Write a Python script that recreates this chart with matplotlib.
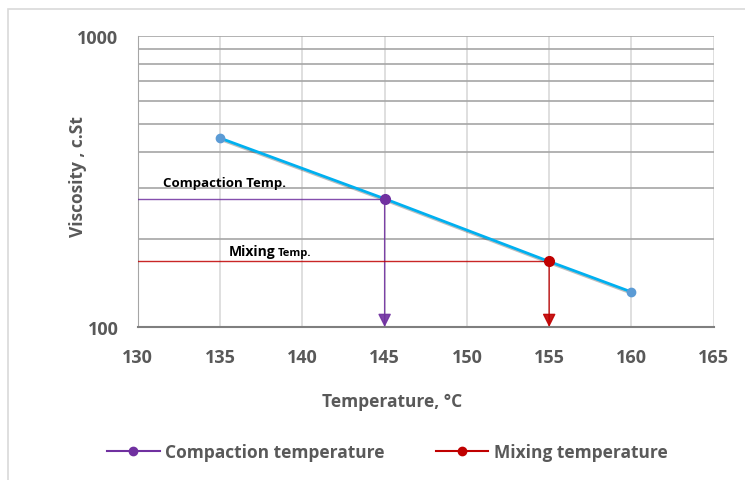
import matplotlib
matplotlib.use('Agg')
import matplotlib.pyplot as plt
import matplotlib.patheffects as pe
from matplotlib.lines import Line2D
from matplotlib.ticker import FixedLocator, NullFormatter

# viscosity vs temperature data
temps = [135, 145, 155, 160]
visc = [446, 276, 168, 132]

comp_temp = 145
comp_visc = 276
mix_temp = 155
mix_visc = 168

xticks = [130, 135, 140, 145, 150, 155, 160, 165]
yticks = [100, 1000]
minor_y = [200, 300, 400, 500, 600, 700, 800, 900]

blue = '#00B0F0'
pt_blue = '#5B9BD5'
purple = '#7030A0'
red = '#C00000'
txt = '#595959'

plt.rcParams['font.family'] = ['Open Sans', 'DejaVu Sans']

fig = plt.figure(figsize=(7.45, 4.81), dpi=100)
# chart area frame
fig.patches.append(plt.Rectangle((0.011, -0.01), 1.0, 0.99, transform=fig.transFigure,
                                 fill=False, edgecolor='#d9d9d9', lw=1.2))
ax = fig.add_axes([0.185, 0.318, 0.773, 0.605])
ax.set_yscale('log')
ax.set_xlim(130, 165)
ax.set_ylim(100, 1000)

ax.xaxis.set_major_locator(FixedLocator(xticks))
ax.yaxis.set_major_locator(FixedLocator(yticks))
ax.yaxis.set_minor_locator(FixedLocator(minor_y))
ax.yaxis.set_minor_formatter(NullFormatter())
ax.set_yticklabels([str(v) for v in yticks])
ax.tick_params(axis='both', which='both', length=0, labelsize=13, labelcolor=txt)
ax.tick_params(axis='x', pad=15)
ax.tick_params(axis='y', pad=14)
for lab in ax.get_xticklabels() + ax.get_yticklabels():
    lab.set_fontweight('bold')

ax.grid(axis='x', color='#d9d9d9', lw=1.2)
ax.grid(axis='y', which='both', color='#a6a6a6', lw=1.2)
for s in ['top', 'right']:
    ax.spines[s].set_visible(False)
ax.spines['left'].set_color('#a6a6a6')
ax.spines['bottom'].set_color('#7f7f7f')
ax.spines['bottom'].set_linewidth(1.5)

# guide lines
ax.plot([130, comp_temp], [comp_visc, comp_visc], color=purple, lw=1, alpha=0.85, zorder=3)
ax.annotate('', xy=(comp_temp, 100), xytext=(comp_temp, comp_visc),
            arrowprops=dict(arrowstyle='-|>,head_length=0.8,head_width=0.4', color=purple,
                            lw=1, shrinkA=0, shrinkB=0, alpha=0.9), zorder=3)
ax.plot([130, mix_temp], [mix_visc, mix_visc], color=red, lw=1, alpha=0.85, zorder=3)
ax.annotate('', xy=(mix_temp, 100), xytext=(mix_temp, mix_visc),
            arrowprops=dict(arrowstyle='-|>,head_length=0.8,head_width=0.4', color=red,
                            lw=1, shrinkA=0, shrinkB=0, alpha=0.9), zorder=3)

# main line
ax.plot(temps, visc, color=blue, lw=2, zorder=4,
        path_effects=[pe.SimpleLineShadow(offset=(1.5, -1.5), alpha=0.25), pe.Normal()])
ax.plot(temps, visc, 'o', color=pt_blue, ms=6, zorder=5)
ax.plot([comp_temp], [comp_visc], 'o', color=purple, ms=7, zorder=6)
ax.plot([mix_temp], [mix_visc], 'o', color=red, ms=7, zorder=6)

ax.text(131.5, 305, 'Compaction Temp.', fontsize=9.5, fontweight='bold', color='black')
mix_lab = ax.text(135.5, 177, 'Mixing', fontsize=10, fontweight='bold', color='black')
ax.annotate('Temp.', xy=(1, 0), xycoords=mix_lab, xytext=(2, 0), textcoords='offset points',
            fontsize=8, fontweight='bold', color='black', va='bottom')

ax.set_xlabel('Temperature, \u00b0C', fontsize=12.5, fontweight='bold', color=txt)
ax.set_ylabel('Viscosity , c.St', fontsize=12.5, fontweight='bold', color=txt)
ax.xaxis.set_label_coords(0.441, -0.222)
ax.yaxis.set_label_coords(-0.089, 0.52)

handles = [Line2D([], [], color=purple, marker='o', ms=6, lw=1.5),
           Line2D([], [], color=red, marker='o', ms=6, lw=1.5)]
fig.legend(handles, ['Compaction temperature', 'Mixing temperature'], loc='center',
           bbox_to_anchor=(0.52, 0.058), ncol=2, frameon=False, handlelength=3,
           columnspacing=3, handletextpad=0.3,
           prop={'size': 12.5, 'weight': 'bold'}, labelcolor=txt)

fig.savefig('out.png', dpi=100)
